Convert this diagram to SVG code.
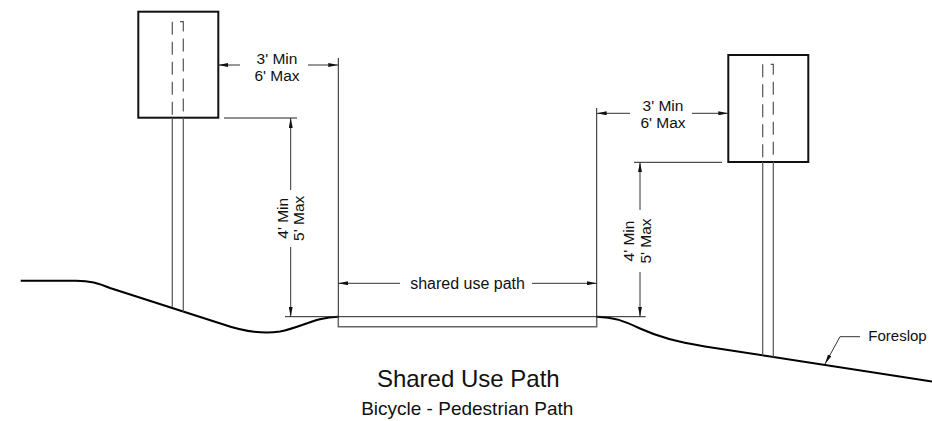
<svg xmlns="http://www.w3.org/2000/svg" width="932" height="421" viewBox="0 0 932 421">
<defs>
<style>
.box{fill:#fff;stroke:#111;stroke-width:2}
.post{fill:none;stroke:#555;stroke-width:1.2}
.dash{fill:none;stroke:#555;stroke-width:1.2;stroke-dasharray:13 7}
.ground{fill:none;stroke:#000;stroke-width:2}
.thin{fill:none;stroke:#222;stroke-width:1}
.slab{fill:none;stroke:#666;stroke-width:1.5}
.dim{fill:none;stroke:#333;stroke-width:1;marker-end:url(#ah)}
.lbl{font-family:"Liberation Sans",Arial,sans-serif;font-size:16px;fill:#111}
.sm{font-size:15.5px}
.mid{text-anchor:middle}
</style>
<marker id="ah" viewBox="0 0 10 4" refX="10" refY="2" markerWidth="10" markerHeight="4" markerUnits="userSpaceOnUse" orient="auto">
<path d="M0,0 L10,2 L0,4 z" fill="#111"/>
</marker>
</defs>
<rect width="932" height="421" fill="#fff"/>

<g id="ground">
<path class="ground" d="M20.7,280.7 L76,280.7 C90,280.7 98,283 110,288 L222,324 C242,331 260,334.5 280,331.5 C302,327 316,317 338,316.7"/>
<path class="ground" d="M596.7,316.7 C614,317 624,321 640,328.5 C660,337.5 676,341.5 705,346.5 L932,381.5"/>
<line class="thin" x1="285" y1="316.7" x2="645.7" y2="316.7"/>
</g>

<g id="path-slab">
<path class="slab" d="M338.3,316.7 L338.3,326.7 L596.7,326.7 L596.7,316.7"/>
</g>

<g id="sign-left">
<rect class="box" x="138.3" y="11.7" width="80" height="106"/>
<line class="dash" x1="172.3" y1="21.7" x2="172.3" y2="117.7"/>
<path class="dash" d="M180,21.7 L183.3,21.7 L183.3,117.7"/>
<line class="post" x1="172.3" y1="117.7" x2="172.3" y2="306.7"/>
<line class="post" x1="183.3" y1="117.7" x2="183.3" y2="311.7"/>
</g>

<g id="sign-right">
<rect class="box" x="728.3" y="55" width="80" height="107"/>
<line class="dash" x1="762.7" y1="64.3" x2="762.7" y2="162"/>
<path class="dash" d="M770.7,64.3 L773.3,64.3 L773.3,162"/>
<line class="post" x1="762.7" y1="162" x2="762.7" y2="355.5"/>
<line class="post" x1="773.3" y1="162" x2="773.3" y2="357.3"/>
</g>

<g id="connectors">
<line class="thin" x1="338.3" y1="58" x2="338.3" y2="318"/>
<line class="thin" x1="596.7" y1="108" x2="596.7" y2="318"/>
<line class="thin" x1="224" y1="118" x2="297" y2="118"/>
<line class="thin" x1="634" y1="162.3" x2="722" y2="162.3"/>
<line class="dim" x1="240" y1="65" x2="218.3" y2="65"/>
<line class="dim" x1="308" y1="65" x2="338.3" y2="65"/>
<line class="dim" x1="630" y1="113.3" x2="596.7" y2="113.3"/>
<line class="dim" x1="692" y1="113.3" x2="728.3" y2="113.3"/>
<line class="dim" x1="400" y1="283.3" x2="338.3" y2="283.3"/>
<line class="dim" x1="532" y1="283.3" x2="596.7" y2="283.3"/>
<line class="dim" x1="290.7" y1="190" x2="290.7" y2="118"/>
<line class="dim" x1="290.7" y1="247" x2="290.7" y2="316.7"/>
<line class="dim" x1="640" y1="210" x2="640" y2="162.3"/>
<line class="dim" x1="640" y1="272" x2="640" y2="316.7"/>
<path class="dim" d="M860,336.7 L840,336.7 L825,364"/>
</g>

<g id="labels">
<text class="lbl sm mid" x="277" y="63.5">3' Min</text>
<text class="lbl sm mid" x="277" y="80.5">6' Max</text>
<text class="lbl sm mid" x="663" y="110.5">3' Min</text>
<text class="lbl sm mid" x="663" y="127.5">6' Max</text>
<text class="lbl mid" x="467.5" y="289">shared use path</text>
<text class="lbl sm mid" transform="translate(287.5,218.3) rotate(-90)">4' Min</text>
<text class="lbl sm mid" transform="translate(304,218.3) rotate(-90)">5' Max</text>
<text class="lbl sm mid" transform="translate(633.5,241) rotate(-90)">4' Min</text>
<text class="lbl sm mid" transform="translate(650.5,241) rotate(-90)">5' Max</text>
<text class="lbl" x="868.3" y="340.7" style="font-size:15px">Foreslop</text>
<text class="lbl mid" x="468.3" y="386.7" style="font-size:24px">Shared Use Path</text>
<text class="lbl mid" x="467.3" y="415" style="font-size:19px">Bicycle - Pedestrian Path</text>
</g>
</svg>
